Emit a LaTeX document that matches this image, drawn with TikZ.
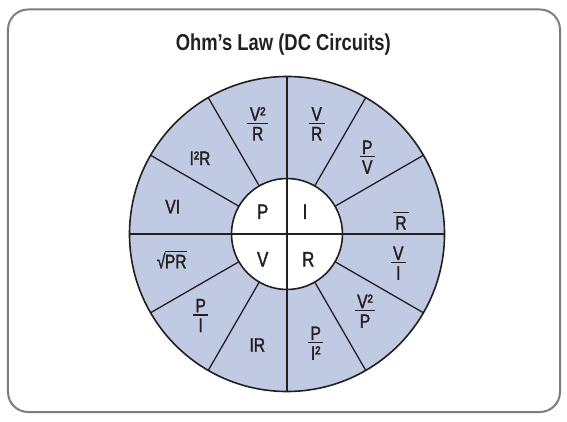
\documentclass[tikz,border=0pt]{standalone}
\usepackage{fontspec}
\setmainfont{Liberation Sans}[FakeStretch=0.8]
\newfontfamily\wheelfont{Liberation Sans}[FakeStretch=0.8,FakeBold=1.5]
\definecolor{wheelblue}{RGB}{192,202,226}
\definecolor{framegray}{RGB}{125,125,125}
\definecolor{ink}{RGB}{35,31,32}
% stacked fraction and overbar in the text font
\newcommand{\ofrac}[2]{\vbox{\offinterlineskip\halign{\hfil\kern2.5pt##\kern2.5pt\hfil\cr#1\cr\noalign{\kern2pt\hrule height1.3pt\kern3pt}#2\cr}}}
\newcommand{\ovbar}[1]{\leavevmode\vbox{\hrule height 1.2pt\kern3pt\hbox{#1}}}

\begin{document}
\begin{tikzpicture}[x=1pt,y=1pt,
	lbl/.style={text=ink,font=\wheelfont\fontsize{19.5}{23}\selectfont,inner sep=0pt},
	core/.style={text=ink,font=\wheelfont\fontsize{21}{25}\selectfont,inner sep=0pt},
	spoke/.style={line width=1.3pt,draw=ink},
	cross/.style={line width=2pt,draw=ink}]
	\useasboundingbox (-287,-188) rectangle (280,234);
	
	%frame
	\draw[framegray,line width=2pt,rounded corners=20pt] (-279,-178) rectangle (273,224.5);
	\node[anchor=base,text=ink,font=\bfseries\fontsize{23}{28}\selectfont] (title) at (-3.7,183.3) {Ohm's Law (DC Circuits)};
	
	%wheel
	\fill[wheelblue] (0,0) circle (157.5);
	\fill[white] (0,0) circle (55.5);
	\draw[spoke] (30:55.5)--(30:157.5); \draw[spoke] (60:55.5)--(60:157.5);
	\draw[spoke] (120:55.5)--(120:157.5); \draw[spoke] (150:55.5)--(150:157.5);
	\draw[spoke] (210:55.5)--(210:157.5); \draw[spoke] (240:55.5)--(240:157.5);
	\draw[spoke] (300:55.5)--(300:157.5); \draw[spoke] (330:55.5)--(330:157.5);
	\draw[spoke, line width=1.6pt] (0,0) circle (157.5) (0,0) circle (55.5);
	\draw[cross] (-157.5,0)--(157.5,0); \draw[cross] (0,-157.5)--(0,157.5);
	
	%centre
	\node[core] (p) at (-24.3,22.3) {P};
	\node[core] (i) at (18,22.3) {I};
	\node[core] (v) at (-24.3,-25.3) {V};
	\node[core] (r) at (21.3,-25.3) {R};
	
	%sectors
	\node[lbl] (vsqr) at (-29.3,110.2) {\ofrac{V²}{R}};
	\node[lbl] (vdr) at (29.7,110.2) {\ofrac{V}{R}};
	\node[lbl] (pdv) at (80.3,76.8) {\ofrac{P}{V}};
	\node[lbl] (rbar) at (114,14.2) {\ofrac{}{R}};
	\node[lbl] (vdi) at (111.3,-29.2) {\ofrac{V}{I}};
	\node[lbl] (vsqp) at (78,-77.2) {\ofrac{V²}{P}};
	\node[lbl] (pisq) at (28.7,-109.2) {\ofrac{P}{I²}};
	\node[lbl] (ir) at (-29.7,-111) {IR};
	\node[lbl] (pdi) at (-86.3,-81.5) {\ofrac{P}{I}};
	\node[lbl,anchor=base] (sqpr) at (-115.3,-34.3) {√\kern-0.5pt\ovbar{PR}};
	\node[lbl] (vi) at (-114.3,27.3) {VI};
	\node[lbl] (isqr) at (-87,75.7) {I²R};
\end{tikzpicture}
\end{document}
